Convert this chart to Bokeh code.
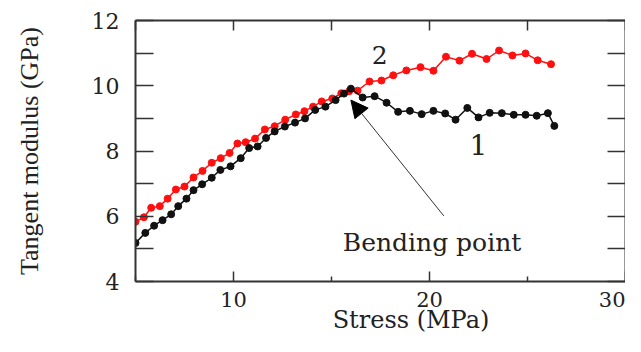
from bokeh.plotting import figure
from bokeh.models import (LinearAxis, FixedTicker, Arrow, NormalHead, Label,
                          CustomJSTickFormatter, Range1d)
from bokeh.embed import file_html
from bokeh.resources import INLINE

# ---- data ----
stress_1 = [5.0, 5.5, 5.95, 6.38, 6.82, 7.18, 7.6, 7.96, 8.4, 8.89, 9.33, 9.85,
            10.37, 10.8, 11.23, 11.66, 12.1, 12.62, 13.14, 13.65, 14.17, 14.69,
            15.21, 15.64, 15.99, 16.59, 17.2, 17.81, 18.4, 19.0, 19.6, 20.2,
            20.8, 21.33, 21.93, 22.5, 23.07, 23.69, 24.3, 24.9, 25.47, 26.04, 26.37]
modulus_1 = [5.18, 5.49, 5.71, 5.88, 6.06, 6.31, 6.54, 6.8, 6.98, 7.18, 7.42, 7.53,
             7.78, 8.09, 8.14, 8.40, 8.6, 8.75, 8.87, 9.0, 9.26, 9.36,
             9.56, 9.76, 9.91, 9.64, 9.68, 9.48, 9.2, 9.23, 9.13, 9.23,
             9.15, 8.96, 9.32, 9.03, 9.17, 9.16, 9.11, 9.11, 9.08, 9.16, 8.77]

stress_2 = [5.0, 5.43, 5.8, 6.24, 6.64, 7.06, 7.5, 7.96, 8.42, 8.89, 9.35, 9.8,
            10.2, 10.62, 11.1, 11.6, 12.1, 12.64, 13.18, 13.62, 14.06, 14.5,
            15.04, 15.5, 15.9, 16.33, 16.94, 17.55, 18.15, 18.82, 19.54, 20.2,
            20.84, 21.53, 22.17, 22.91, 23.55, 24.23, 24.9, 25.52, 26.2]
modulus_2 = [5.83, 5.97, 6.26, 6.31, 6.54, 6.82, 6.91, 7.19, 7.39, 7.64, 7.78, 7.94,
             8.23, 8.27, 8.38, 8.66, 8.76, 8.96, 9.12, 9.22, 9.36, 9.52,
             9.61, 9.77, 9.83, 9.85, 10.13, 10.16, 10.32, 10.47, 10.57, 10.46,
             10.89, 10.77, 10.98, 10.82, 11.08, 10.93, 10.99, 10.78, 10.66]

x_major = [10, 20, 30]
x_minor = [5, 15, 25]
y_major = [4, 6, 8, 10, 12]
y_minor = [5, 7, 9, 11]

x_title = "Stress (MPa)"
y_title = "Tangent modulus (GPa)"
curve_labels = ["1", "2"]
curve_label_x = [22.5, 17.46]
curve_label_y = [8.2, 10.95]
note_text = "Bending point"
note_x, note_y = 20.13, 5.19
arrow_from = (20.73, 6.01)
arrow_to = (15.99, 9.56)

# ---- figure ----
p = figure(width=625, height=336, output_backend="svg", toolbar_location=None,
           x_range=Range1d(5, 30), y_range=Range1d(4, 12),
           min_border_left=135, min_border_right=0, min_border_top=20,
           min_border_bottom=50)
p.xgrid.visible = False
p.ygrid.visible = False
p.outline_line_color = None
p.background_fill_color = "white"

AX = "#333333"
SERIF = "DejaVu Serif"

def style_axis(ax, major, minor, tick_len, minor_len, show_labels):
    ax.ticker = FixedTicker(ticks=major, minor_ticks=minor)
    ax.axis_line_color = AX
    ax.axis_line_width = 2
    ax.major_tick_line_color = AX
    ax.minor_tick_line_color = AX
    ax.major_tick_line_width = 1.5
    ax.minor_tick_line_width = 1.5
    ax.major_tick_in = tick_len
    ax.major_tick_out = 0
    ax.minor_tick_in = minor_len
    ax.minor_tick_out = 0
    ax.major_label_text_font = SERIF
    ax.major_label_text_font_size = "22px"
    ax.major_label_text_color = "#222222"
    if not show_labels:
        ax.formatter = CustomJSTickFormatter(code="return ''")
        ax.major_label_standoff = 0
        ax.major_label_text_font_size = "0px"
        ax.axis_label_standoff = 0

xa = p.xaxis[0]
ya = p.yaxis[0]
style_axis(xa, x_major, x_minor, 10, 5, True)
style_axis(ya, y_major, y_minor, 18, 18, True)
xa.major_label_text_font_size = "21px"
xa.major_label_standoff = 10
ya.major_label_standoff = 16

# the original title sits right of the axis centre: pad its start
xa.axis_label = "\u00a0" * 8 + x_title
xa.axis_label_text_font = SERIF
xa.axis_label_text_font_size = "24px"
xa.axis_label_text_font_style = "normal"
xa.axis_label_text_color = "#222222"
xa.axis_label_standoff = -4

ya.axis_label = y_title
ya.axis_label_text_font = "Liberation Serif"
ya.axis_label_text_font_size = "26px"
ya.axis_label_text_font_style = "normal"
ya.axis_label_text_color = "#222222"
ya.axis_label_standoff = 45

top = LinearAxis()
style_axis(top, x_major, x_minor, 10, 10, False)
p.add_layout(top, "above")
right = LinearAxis()
style_axis(right, y_major, y_minor, 18, 18, False)
p.add_layout(right, "right")

# ---- series ----
RED = "#ff1010"
BLK = "#111111"
p.line(stress_2, modulus_2, line_color=RED, line_width=1.5)
p.scatter(stress_2, modulus_2, size=7, fill_color=RED, line_color=RED)
p.line(stress_1, modulus_1, line_color=BLK, line_width=1.5)
p.scatter(stress_1, modulus_1, size=7, fill_color=BLK, line_color=BLK)

# ---- annotations ----
for t, lx, ly, fs in zip(curve_labels, curve_label_x, curve_label_y, ["28px", "25px"]):
    p.add_layout(Label(x=lx, y=ly, text=t, text_align="center", text_baseline="middle",
                       text_font=SERIF, text_font_size=fs, text_color="#222222"))

p.add_layout(Label(x=note_x, y=note_y, text=note_text, text_align="center",
                   text_baseline="middle", text_font=SERIF, text_font_size="25px",
                   text_color="#222222"))

p.add_layout(Arrow(end=NormalHead(size=17, fill_color="black", line_color="black"),
                   x_start=arrow_from[0], y_start=arrow_from[1],
                   x_end=arrow_to[0], y_end=arrow_to[1],
                   line_color="#333333", line_width=1))

open("out.html", "w").write(file_html(p, INLINE))
